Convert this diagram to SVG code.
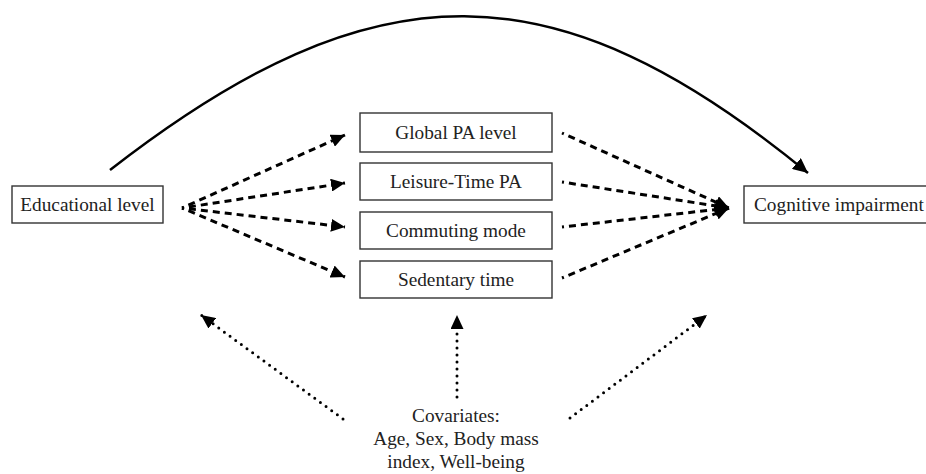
<svg xmlns="http://www.w3.org/2000/svg" width="926" height="474" viewBox="0 0 926 474">
<defs>
<style>
.box{fill:#fff;stroke:#333;stroke-width:1.4}
.t{font-family:"Liberation Serif","Times New Roman",serif;font-size:19.3px;fill:#222;text-anchor:middle}
.solid{fill:none;stroke:#000;stroke-width:2.5}
.dash{fill:none;stroke:#000;stroke-width:3;stroke-dasharray:7 5;stroke-dashoffset:5}
.dot{fill:none;stroke:#000;stroke-width:3;stroke-linecap:round;stroke-dasharray:0 7}
</style>
<marker id="ah" markerUnits="userSpaceOnUse" markerWidth="16" markerHeight="14" refX="15" refY="7" orient="auto"><path d="M0,0 L15,7 L0,14 z" fill="#000"/></marker>
<marker id="ahs" markerUnits="userSpaceOnUse" markerWidth="14" markerHeight="13" refX="14" refY="6.5" orient="auto"><path d="M0,0 L14,6.5 L0,13 z" fill="#000"/></marker>
</defs>
<g id="connectors">
<path class="solid" d="M110,170 C376,-37 556,-34 808,173" marker-end="url(#ah)"/>
<line class="dash" x1="182" y1="208" x2="345" y2="135" marker-end="url(#ahs)"/>
<line class="dash" x1="182" y1="208" x2="345" y2="183" marker-end="url(#ahs)"/>
<line class="dash" x1="182" y1="208" x2="345" y2="227" marker-end="url(#ahs)"/>
<line class="dash" x1="182" y1="208" x2="345" y2="277" marker-end="url(#ahs)"/>
<line class="dash" x1="562" y1="133" x2="729" y2="208" marker-end="url(#ahs)"/>
<line class="dash" x1="562" y1="182" x2="729" y2="208" marker-end="url(#ahs)"/>
<line class="dash" x1="562" y1="227" x2="729" y2="208" marker-end="url(#ahs)"/>
<line class="dash" x1="562" y1="278" x2="729" y2="208" marker-end="url(#ahs)"/>
<line class="dot" x1="343" y1="419" x2="201" y2="315" marker-end="url(#ahs)"/>
<line class="dot" x1="457" y1="397" x2="457" y2="315" marker-end="url(#ahs)"/>
<line class="dot" x1="570" y1="418" x2="707" y2="315" marker-end="url(#ahs)"/>
</g>
<g id="educational">
<rect class="box" x="12" y="186" width="151" height="37"/>
<text class="t" x="87.5" y="211">Educational level</text>
</g>
<g id="cognitive">
<rect class="box" x="744" y="186" width="200" height="37"/>
<text class="t" x="754" y="211" style="text-anchor:start">Cognitive impairment</text>
</g>
<g id="global">
<rect class="box" x="360" y="113" width="192" height="39"/>
<text class="t" x="456" y="139">Global PA level</text>
</g>
<g id="leisure">
<rect class="box" x="360" y="163" width="192" height="37"/>
<text class="t" x="456" y="188">Leisure-Time PA</text>
</g>
<g id="commuting">
<rect class="box" x="360" y="212" width="192" height="37"/>
<text class="t" x="456" y="237">Commuting mode</text>
</g>
<g id="sedentary">
<rect class="box" x="360" y="261" width="192" height="37"/>
<text class="t" x="456" y="286">Sedentary time</text>
</g>
<g id="covariates">
<text class="t" x="456" y="422">Covariates:</text>
<text class="t" x="456" y="445">Age, Sex, Body mass</text>
<text class="t" x="456" y="468">index, Well-being</text>
</g>
</svg>
